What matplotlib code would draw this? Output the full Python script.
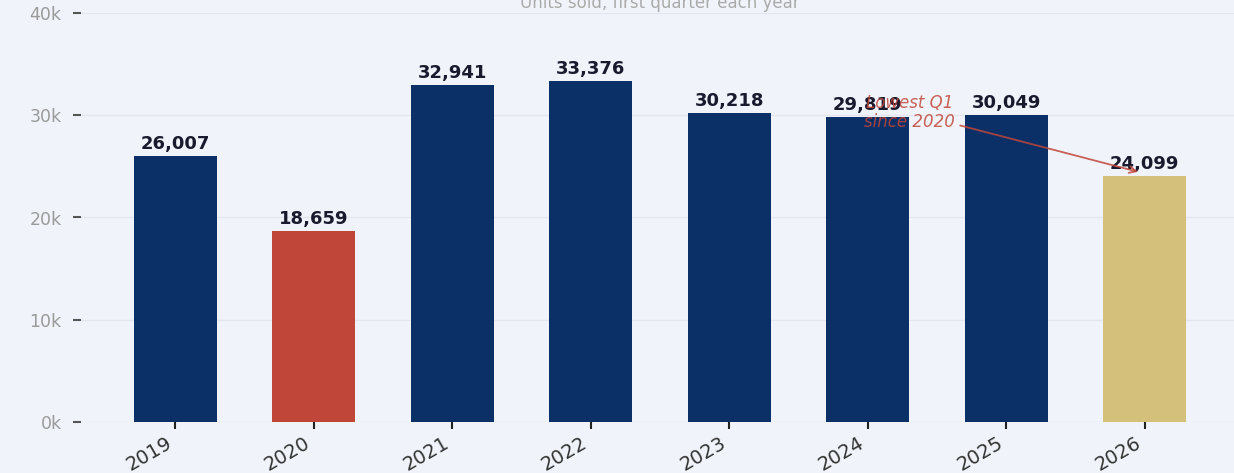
import matplotlib
matplotlib.use("Agg")
import matplotlib.pyplot as plt
import matplotlib.transforms as mtransforms
from matplotlib.ticker import FuncFormatter

# Q1 unit sales per year
years = ["2019", "2020", "2021", "2022", "2023", "2024", "2025", "2026"]
units = [26007, 18659, 32941, 33376, 30218, 29819, 30049, 24099]
bar_colors = ["#0b3068", "#c0463a", "#0b3068", "#0b3068",
              "#0b3068", "#0b3068", "#0b3068", "#d4c07a"]

bg = "#f0f4fa"

fig = plt.figure(figsize=(12.34, 4.73), dpi=100, facecolor=bg)
ax = fig.add_axes([81 / 1234, 51 / 473, 1158 / 1234, 409 / 473])
ax.set_facecolor(bg)

x = list(range(len(years)))
ax.bar(x, units, width=0.6, color=bar_colors, zorder=3)

for xi, v in zip(x, units):
    ax.text(xi, v + 300, f"{v:,}", ha="center", va="bottom",
            fontsize=13, fontweight="bold", color="#1a1a2e", zorder=5)

ax.set_xlim(-0.68, 7.68)
ax.set_ylim(0, 40000)
ax.set_yticks([0, 10000, 20000, 30000, 40000])
ax.yaxis.set_major_formatter(FuncFormatter(lambda v, p: f"{int(v / 1000)}k"))
ax.set_xticks(x)
ax.set_xticklabels(years, rotation=30, ha="right")

# small nudge of the rotated year labels
shift = mtransforms.ScaledTranslation(-5 / 100, 0, fig.dpi_scale_trans)
for lbl in ax.get_xticklabels():
    lbl.set_transform(lbl.get_transform() + shift)

ax.grid(axis="y", color="#e2e6ee", linewidth=1, zorder=0)
for s in ax.spines.values():
    s.set_visible(False)

ax.tick_params(axis="y", colors="#555555", labelcolor="#9a9a9a",
               labelsize=12.5, length=6, width=1.5, pad=8)
ax.tick_params(axis="x", colors="#222222", labelcolor="#333333",
               labelsize=14, length=5, width=1.5, pad=3)

ax.text(0.5, 1.002, "Units sold, first quarter each year",
        transform=ax.transAxes, ha="center", va="bottom",
        fontsize=12, color="#aaaaaa")

ax.annotate("Lowest Q1\nsince 2020", xy=(6.97, 24400), xytext=(5.3, 30300),
            ha="center", va="center", fontsize=12, style="italic",
            color="#c0463a", alpha=0.85, linespacing=1.05, zorder=6,
            arrowprops=dict(arrowstyle="->", color="#c0463a", lw=1.3,
                            alpha=0.85))

fig.savefig("out.png", dpi=100, facecolor=bg)
